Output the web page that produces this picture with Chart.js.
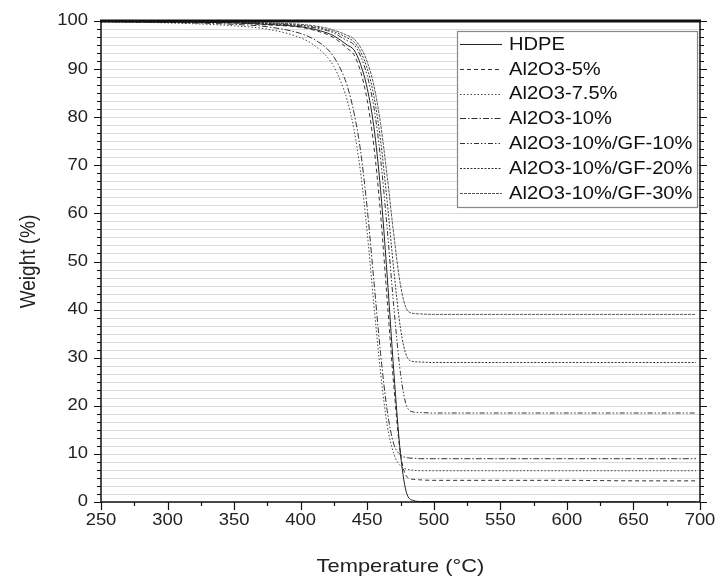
<!DOCTYPE html>
<html>
<head>
<meta charset="utf-8">
<script src="https://cdn.jsdelivr.net/npm/chart.js@4"></script>
<style>
  html, body { margin: 0; padding: 0; background: #fff; }
  #wrap { width: 721px; height: 582px; }
</style>
</head>
<body>
<div id="wrap"><canvas id="tga" width="721" height="582"></canvas></div>
<script>
// --- data ---
const temps = [250, 300, 350, 375, 400, 410, 420, 425, 430, 435, 440, 445, 450, 455, 460, 465, 470, 475, 480, 485, 490, 500, 550, 600, 650, 697];

const hdpe   = [99.9, 99.8, 99.6, 99.3, 98.8, 98.3, 97.5, 96.9, 96.0, 95.0, 94.0, 91.0, 86.0, 78.0, 65.0, 47.0, 27.0, 10.0, 1.5, 0.3, 0.1, 0.1, 0.1, 0.0, 0.0, 0.0];
const al5    = [99.9, 99.8, 99.6, 99.2, 98.7, 98.1, 97.2, 96.5, 95.5, 94.3, 93.0, 89.5, 83.5, 74.0, 60.0, 42.0, 24.0, 10.0, 5.2, 4.7, 4.6, 4.5, 4.5, 4.5, 4.4, 4.4];
const al75   = [99.8, 99.6, 99.0, 98.3, 96.5, 95.0, 92.5, 90.5, 87.5, 83.5, 77.5, 68.5, 56.0, 41.0, 27.0, 16.0, 10.0, 7.5, 6.8, 6.6, 6.5, 6.5, 6.5, 6.5, 6.5, 6.5];
const al10   = [99.9, 99.7, 99.3, 98.8, 97.4, 96.2, 94.2, 92.5, 90.0, 86.5, 81.0, 73.0, 61.0, 46.0, 31.0, 19.0, 12.0, 9.8, 9.2, 9.1, 9.0, 9.0, 9.0, 9.0, 9.0, 9.0];
const gf10   = [99.9, 99.8, 99.7, 99.4, 99.0, 98.6, 98.0, 97.5, 96.7, 95.9, 95.1, 92.7, 88.6, 82.1, 71.5, 56.8, 40.5, 26.7, 19.7, 18.7, 18.6, 18.5, 18.5, 18.5, 18.5, 18.5];
const gf20   = [99.9, 99.9, 99.7, 99.5, 99.1, 98.8, 98.2, 97.8, 97.2, 96.5, 95.7, 93.6, 90.1, 84.4, 75.2, 62.4, 48.2, 36.1, 30.1, 29.2, 29.1, 29.0, 29.0, 29.0, 29.0, 29.0];
const gf30   = [99.9, 99.9, 99.8, 99.6, 99.3, 99.0, 98.5, 98.1, 97.6, 97.0, 96.3, 94.5, 91.5, 86.6, 78.7, 67.7, 55.5, 45.1, 39.9, 39.2, 39.1, 39.0, 39.0, 39.0, 39.0, 39.0];

const seriesNames = ["HDPE", "Al2O3-5%", "Al2O3-7.5%", "Al2O3-10%", "Al2O3-10%/GF-10%", "Al2O3-10%/GF-20%", "Al2O3-10%/GF-30%"];
const seriesValues = [hdpe, al5, al75, al10, gf10, gf20, gf30];

const xTicks = [250, 300, 350, 400, 450, 500, 550, 600, 650, 700];
const yTicks = [0, 10, 20, 30, 40, 50, 60, 70, 80, 90, 100];
const yMinorPerMajor = 6;

// --- styles ---
const lineStyles = [
  { color: "#222", dash: [] },
  { color: "#333", dash: [4, 3] },
  { color: "#444", dash: [1.5, 2] },
  { color: "#333", dash: [6, 2, 1.5, 2] },
  { color: "#333", dash: [5, 2, 1.5, 2, 1.5, 2] },
  { color: "#333", dash: [2, 1.5] },
  { color: "#555", dash: [3, 1] },
];

const FONT = '"Liberation Sans", Arial, sans-serif';
const STRETCH = 1.15;

const stretchText = (ctx, txt, x, y, size, align, baseline) => {
  ctx.save();
  ctx.font = `${size}px ${FONT}`;
  ctx.textAlign = align;
  ctx.textBaseline = baseline;
  ctx.translate(x, y);
  ctx.scale(STRETCH, 1);
  ctx.fillText(txt, 0, 0);
  ctx.restore();
};

// y values of every minor step (gridlines + ticks)
const yMinorValues = () => {
  const out = [];
  const n = (yTicks.length - 1) * yMinorPerMajor;
  for (let i = 0; i <= n; i++) out.push({ v: (i * 10) / yMinorPerMajor, major: i % yMinorPerMajor === 0 });
  return out;
};

// light horizontal grid under the curves
const gridPlugin = {
  id: "hgrid",
  beforeDatasetsDraw(chart) {
    const { ctx, chartArea: a, scales } = chart;
    ctx.save();
    ctx.strokeStyle = "#dadada";
    ctx.lineWidth = 1;
    ctx.beginPath();
    yMinorValues().forEach(({ v }) => {
      const py = Math.round(scales.y.getPixelForValue(v)) + 0.5;
      ctx.moveTo(a.left, py);
      ctx.lineTo(a.right, py);
    });
    ctx.stroke();
    ctx.restore();
  },
};

// frame, ticks, labels, legend
const framePlugin = {
  id: "frame",
  afterDraw(chart) {
    const { ctx, chartArea: a, scales } = chart;
    const xs = scales.x, ys = scales.y;
    ctx.save();
    ctx.strokeStyle = "#111";
    ctx.fillStyle = "#222";

    // ticks
    ctx.lineWidth = 1.2;
    ctx.beginPath();
    yMinorValues().forEach(({ v, major }) => {
      const py = Math.round(ys.getPixelForValue(v)) + 0.5;
      const len = major ? 7 : 4;
      ctx.moveTo(a.left - len, py); ctx.lineTo(a.left, py);
      ctx.moveTo(a.right, py); ctx.lineTo(a.right + len, py);
    });
    for (let v = 250; v <= 700; v += 25) {
      const px = Math.round(xs.getPixelForValue(v)) + 0.5;
      const len = v % 50 === 0 ? 8 : 4;
      ctx.moveTo(px, a.bottom); ctx.lineTo(px, a.bottom + len);
    }
    ctx.stroke();

    // box
    ctx.lineWidth = 1.5;
    ctx.beginPath();
    ctx.moveTo(a.left, a.top); ctx.lineTo(a.left, a.bottom); ctx.lineTo(a.right, a.bottom); ctx.lineTo(a.right, a.top);
    ctx.stroke();
    ctx.lineWidth = 3;
    ctx.beginPath();
    ctx.moveTo(a.left - 1, a.top); ctx.lineTo(a.right + 1, a.top);
    ctx.stroke();

    // tick labels
    yTicks.forEach((v) => stretchText(ctx, String(v), a.left - 13, ys.getPixelForValue(v), 16, "right", "middle"));
    xTicks.forEach((v) => stretchText(ctx, String(v), xs.getPixelForValue(v), a.bottom + 11, 16, "center", "top"));

    // axis titles
    stretchText(ctx, "Temperature (°C)", (a.left + a.right) / 2, 567, 19, "center", "middle");
    ctx.save();
    ctx.font = `19px ${FONT}`;
    ctx.textAlign = "center";
    ctx.textBaseline = "middle";
    ctx.translate(29, (a.top + a.bottom) / 2);
    ctx.rotate(-Math.PI / 2);
    ctx.scale(1, STRETCH);
    ctx.fillText("Weight (%)", 0, 0);
    ctx.restore();

    // legend
    const lx = 457, ly = 31, lw = 240, lh = 176;
    ctx.fillStyle = "#fff";
    ctx.fillRect(lx, ly, lw, lh);
    ctx.strokeStyle = "#888";
    ctx.lineWidth = 1.2;
    ctx.strokeRect(lx + 0.5, ly + 0.5, lw, lh);
    seriesNames.forEach((name, i) => {
      const cy = ly + 13 + i * 24.8;
      const st = lineStyles[i];
      ctx.strokeStyle = st.color;
      ctx.lineWidth = 1;
      ctx.setLineDash(st.dash);
      ctx.beginPath();
      ctx.moveTo(lx + 3, Math.round(cy) + 0.5);
      ctx.lineTo(lx + 45, Math.round(cy) + 0.5);
      ctx.stroke();
      ctx.setLineDash([]);
      ctx.fillStyle = "#111";
      stretchText(ctx, name, lx + 52, cy + 1, 17.5, "left", "middle");
    });
    ctx.restore();
  },
};

const datasets = seriesValues.map((vals, i) => ({
  label: seriesNames[i],
  data: temps.map((t, k) => ({ x: t, y: vals[k] })),
  borderColor: lineStyles[i].color,
  borderDash: lineStyles[i].dash,
  borderWidth: 1,
  pointRadius: 0,
  fill: false,
  cubicInterpolationMode: "monotone",
}));

new Chart(document.getElementById("tga"), {
  type: "line",
  data: { datasets },
  options: {
    responsive: false,
    animation: false,
    events: [],
    layout: { padding: { top: 21, right: 21, left: 0, bottom: 0 } },
    plugins: { legend: { display: false }, tooltip: { enabled: false } },
    scales: {
      x: {
        type: "linear",
        min: 250,
        max: 700,
        ticks: { display: false, stepSize: 50 },
        grid: { display: false },
        border: { display: false },
        afterFit: (s) => { s.height = 80; },
      },
      y: {
        min: 0,
        max: 100,
        ticks: { display: false, stepSize: 10 },
        grid: { display: false },
        border: { display: false },
        afterFit: (s) => { s.width = 101; },
      },
    },
  },
  plugins: [gridPlugin, framePlugin],
});
</script>
</body>
</html>
